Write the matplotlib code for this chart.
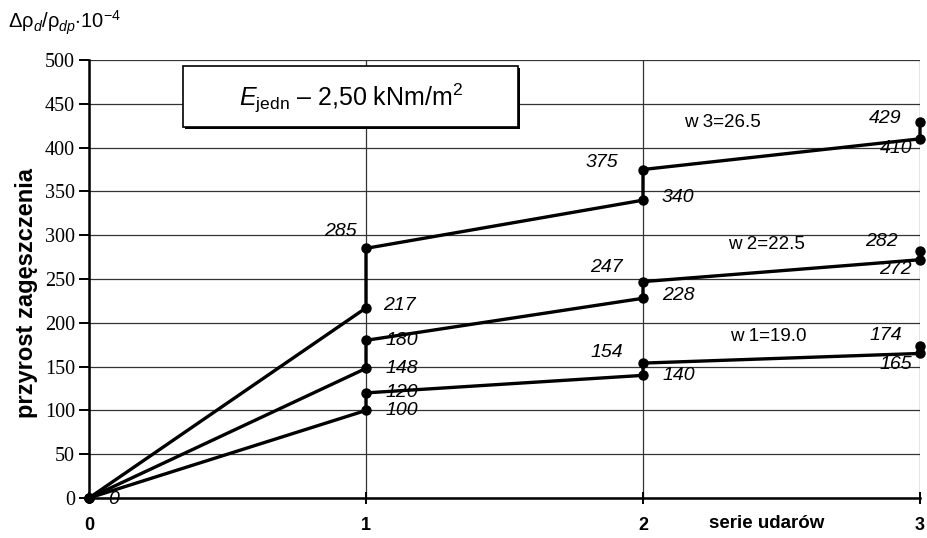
import numpy as np
import matplotlib
matplotlib.use('Agg')
import matplotlib.pyplot as plt
from matplotlib.patches import Rectangle

plt.rcParams['font.family'] = 'Liberation Sans'
plt.rcParams['mathtext.fontset'] = 'custom'
plt.rcParams['mathtext.rm'] = 'Liberation Sans'
plt.rcParams['mathtext.it'] = 'Liberation Sans:italic'
plt.rcParams['mathtext.bf'] = 'Liberation Sans:bold'

# stepwise series: x = impact series, jump at each series end
x_pts = [0, 1, 1, 2, 2, 3, 3]
w1 = [0, 100, 120, 140, 154, 165, 174]
w2 = [0, 148, 180, 228, 247, 272, 282]
w3 = [0, 217, 285, 340, 375, 410, 429]
series_names = ['w 1=19.0', 'w 2=22.5', 'w 3=26.5']

# label offsets in pixels (dx, dy, ha) for each point
off_w1 = [(19, -2, 'left'), (20, 0, 'left'), (20, 0, 'left'), (20, 0, 'left'),
          (-20, 11, 'right'), (-8, -11, 'right'), (-18, 10, 'right')]
off_w2 = [None, (20, 0, 'left'), (20, 0, 'left'), (19, 3, 'left'),
          (-20, 14, 'right'), (-8, -10, 'right'), (-22, 9, 'right')]
off_w3 = [None, (17, 2, 'left'), (-9, 17, 'right'), (19, 3, 'left'),
          (-25, 7, 'right'), (-7, -10, 'right'), (-18, 4, 'right')]
name_pos = [(2.451, 184), (2.444, 289), (2.285, 429)]

fig = plt.figure(figsize=(9.28, 5.38), dpi=100)
ax = fig.add_axes([89/928, 1-498/538, (920-89)/928, (498-60)/538])

ax.set_xlim(0, 3)
ax.set_ylim(0, 500)
ax.set_yticks(np.arange(0, 501, 50))
ax.set_xticks([0, 1, 2, 3])
ax.grid(True, color='#333333', lw=0.9, zorder=0)
ax.set_axisbelow(True)

for s in ['top', 'right']:
    ax.spines[s].set_visible(False)
ax.spines['left'].set_linewidth(1.8)
ax.spines['bottom'].set_linewidth(1.8)

ax.tick_params(axis='y', direction='out', length=7, width=1.4, pad=3)
ax.tick_params(axis='x', direction='inout', length=9, width=1.4, pad=9)
for lab in ax.get_yticklabels():
    lab.set_fontfamily('Liberation Serif')
    lab.set_fontsize(14.5)
for lab in ax.get_xticklabels():
    lab.set_fontweight('bold')
    lab.set_fontsize(13)

for ys, offs in [(w1, off_w1), (w2, off_w2), (w3, off_w3)]:
    ax.plot(x_pts, ys, color='black', lw=2.4, marker='o', ms=6.5,
            clip_on=False, zorder=3)
    for xv, yv, o in zip(x_pts, ys, offs):
        if o is None:
            continue
        ax.annotate(str(yv), (xv, yv), xytext=(o[0], o[1]),
                    textcoords='offset pixels', ha=o[2], va='center',
                    fontsize=14, fontstyle='italic', zorder=4)

for name, (xn, yn) in zip(series_names, name_pos):
    ax.text(xn, yn, name, ha='center', va='center', fontsize=13.5)

# title box with shadow
ax.add_patch(Rectangle((0.346, 420.9), 1.21, 69.7, facecolor='black',
                       edgecolor='none', zorder=5))
ax.add_patch(Rectangle((0.339, 423.3), 1.21, 69.7, facecolor='white',
                       edgecolor='black', lw=1.2, zorder=6))
ax.text(0.946, 456.5, r'$\mathit{E}_{\mathrm{jedn}}$ – 2,50 kNm/m$^{2}$',
        ha='center', va='center', fontsize=18, zorder=7)

fig.text(27/928, 1-293/538, 'przyrost zagęszczenia', rotation=90,
         ha='center', va='center', fontsize=17, fontweight='bold')
fig.text(767/928, 1-524/538, 'serie udarów', ha='center', va='center',
         fontsize=13.5, fontweight='bold')
fig.text(8/928, 1-23/538,
         r'$\Delta\mathrm{\rho}_{\mathit{d}}/\mathrm{\rho}_{\mathit{dp}}\mathrm{\cdot 10}^{-4}$',
         ha='left', va='center', fontsize=14.5)

fig.savefig('out.png', dpi=100)
